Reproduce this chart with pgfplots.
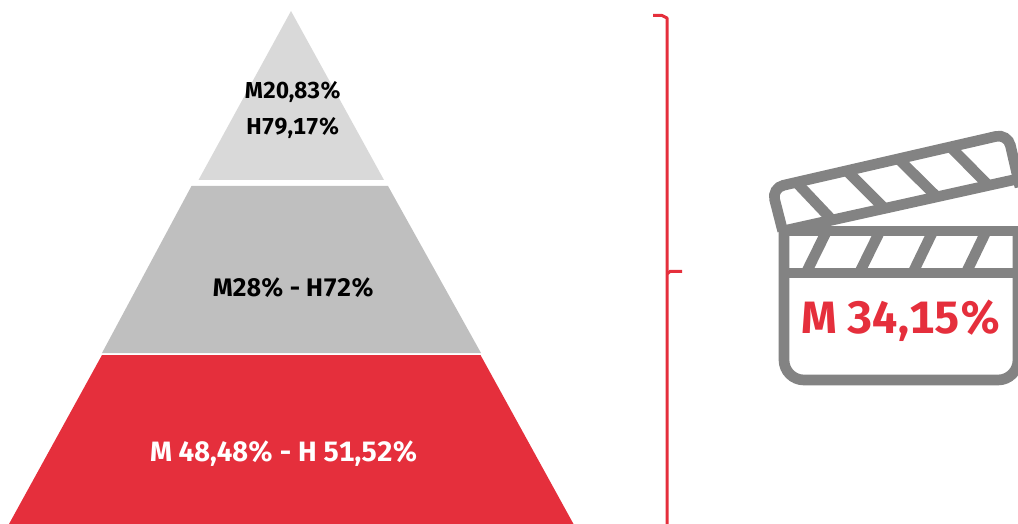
\documentclass[border=0pt]{standalone}
\usepackage{fontspec}
\setmainfont{Fira Sans}[Numbers=Monospaced]
\usepackage{pgfplots}
\pgfplotsset{compat=1.18}
\definecolor{brandred}{HTML}{E52F3C}
\definecolor{toplevel}{HTML}{D9D9D9}
\definecolor{midlevel}{HTML}{BFBFBF}
\definecolor{icongrey}{HTML}{838383}
\tikzset{lab/.style={anchor=center, inner sep=0pt}}
\begin{document}
\begin{tikzpicture}
\path[use as bounding box] (0,0) rectangle (763.5pt,393pt);
\begin{axis}[
  at={(0,0)}, anchor=south west,
  scale only axis, width=763.5pt, height=393pt,
  xmin=0, xmax=1018, ymin=0, ymax=524, y dir=reverse,
  hide axis, clip=true,
  every axis plot/.append style={no markers},
]
% pyramid levels
\addplot[fill=toplevel, draw=none] coordinates {(291,11) (384,180) (198.5,180) (291,11)};
\addplot[fill=midlevel, draw=none] coordinates {(191.5,186) (388,186) (481,353) (102,353) (191.5,186)};
\addplot[fill=brandred, draw=none] coordinates {(102,355) (480.5,355) (573.5,524) (9,524) (102,355)};
% bracket
\addplot[brandred, line width=2.25pt, line join=round] coordinates {(653,15.5) (662,15.5) (667,18) (667,524)};
\addplot[brandred, line width=2.25pt] coordinates {(667,274) (670,271.5) (682,271.5)};
% clapperboard body
\addplot[icongrey, line width=8pt, rounded corners=15pt] coordinates {(784,231) (784,380) (1018,380) (1018,231)};
\addplot[icongrey, line width=8pt] coordinates {(780,231) (1022,231)};
\addplot[icongrey, line width=8pt] coordinates {(784,273) (1022,273)};
\addplot[icongrey, line width=8pt] coordinates {(826.7,231) (806,273)};
\addplot[icongrey, line width=8pt] coordinates {(880,231) (859.3,273)};
\addplot[icongrey, line width=8pt] coordinates {(933,231) (912.7,273)};
\addplot[icongrey, line width=8pt] coordinates {(986.3,231) (966,273)};
% clapperboard stick
\addplot[icongrey, line width=8pt, rounded corners=9pt] coordinates {(782.7,231) (771.7,188) (1007.7,133.7) (1020,187)};
\addplot[icongrey, line width=8pt] coordinates {(782.7,231) (1022,178)};
\addplot[icongrey, line width=8pt] coordinates {(797,183) (832,220)};
\addplot[icongrey, line width=8pt] coordinates {(848,172) (884,208)};
\addplot[icongrey, line width=8pt] coordinates {(898,158.5) (937,197)};
\addplot[icongrey, line width=8pt] coordinates {(950,146.5) (988,185)};
% labels
\node[lab, font=\fontsize{17.3}{20}\bfseries\selectfont] at (axis cs:293,92) {M20,83\%};
\node[lab, font=\fontsize{17.3}{20}\bfseries\selectfont] at (axis cs:293,128.5) {H79,17\%};
\node[lab, font=\fontsize{19}{20}\bfseries\selectfont] at (axis cs:293.5,288) {M28\% - H72\%};
\node[lab, text=white, font=\fontsize{21}{22}\bfseries\selectfont] at (axis cs:284,454) {M 48,48\% - H 51,52\%};
\node[lab, text=brandred, font=\fontsize{34}{36}\bfseries\selectfont] at (axis cs:901,321) {M 34,15\%};
\end{axis}
\end{tikzpicture}
\end{document}
